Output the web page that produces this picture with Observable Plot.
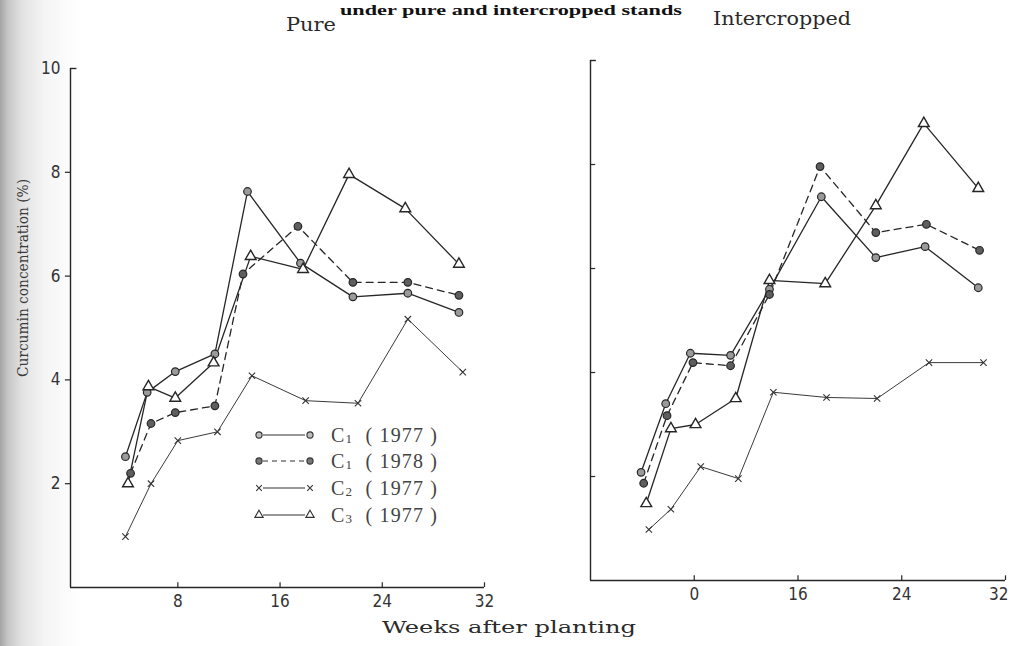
<!DOCTYPE html>
<html>
<head>
<meta charset="utf-8">
<script src="https://cdn.jsdelivr.net/npm/d3@7"></script>
<script src="https://cdn.jsdelivr.net/npm/@observablehq/plot@0.6"></script>
<style>
  html, body { margin: 0; padding: 0; background: #fff; }
  #fig { position: relative; width: 1010px; height: 646px; overflow: hidden;
    background: linear-gradient(to right, #a4a4a4 0px, #c6c6c6 8px, #e2e2e2 22px, #f5f5f5 45px, #ffffff 80px); }
  #fig > svg { position: absolute; top: 0; }
</style>
</head>
<body>
<div id="fig"></div>
<script>
// ---------- data ----------
const seriesNames = ["C1 (1977)", "C1 (1978)", "C2 (1977)", "C3 (1977)"];

// Pure stand
const pureWeeksC1a = [3.9, 5.6, 7.8, 10.9, 13.45, 17.6, 21.7, 26.0, 30.0];
const pureC1a      = [2.52, 3.76, 4.16, 4.5, 7.63, 6.25, 5.6, 5.67, 5.3];
const pureWeeksC1b = [4.3, 5.9, 7.8, 10.9, 13.1, 17.4, 21.7, 26.0, 30.0];
const pureC1b      = [2.2, 3.16, 3.37, 3.5, 6.04, 6.96, 5.88, 5.88, 5.63];
const pureWeeksC2  = [3.9, 5.9, 8.0, 11.1, 13.8, 18.0, 22.1, 26.0, 30.3];
const pureC2       = [0.98, 2.0, 2.83, 3.0, 4.08, 3.6, 3.55, 5.17, 4.15];
const pureWeeksC3  = [4.1, 5.7, 7.8, 10.8, 13.7, 17.8, 21.4, 25.8, 30.0];
const pureC3       = [2.0, 3.87, 3.65, 4.33, 6.38, 6.13, 7.96, 7.3, 6.23];

// Intercropped stand
const interWeeksC1a = [3.9, 5.8, 7.7, 10.8, 13.8, 17.8, 22.0, 25.8, 29.9];
const interC1a      = [2.08, 3.4, 4.37, 4.33, 5.6, 7.38, 6.21, 6.42, 5.63];
const interWeeksC1b = [4.1, 5.9, 7.9, 10.8, 13.8, 17.7, 22.0, 25.9, 30.0];
const interC1b      = [1.87, 3.17, 4.19, 4.13, 5.5, 7.96, 6.69, 6.85, 6.35];
const interWeeksC2  = [4.5, 6.2, 8.5, 11.4, 14.1, 18.2, 22.1, 26.1, 30.3];
const interC2       = [0.98, 1.37, 2.19, 1.96, 3.62, 3.52, 3.5, 4.19, 4.19];
const interWeeksC3  = [4.3, 6.2, 8.1, 11.2, 13.8, 18.1, 22.0, 25.7, 29.9];
const interC3       = [1.48, 2.92, 3.0, 3.5, 5.77, 5.71, 7.21, 8.79, 7.54];

// axes
const yTicks = [2, 4, 6, 8, 10];
const xTicks = [8, 16, 24, 32];
const pureXTickLabels  = ["8", "16", "24", "32"];
const interXTickLabels = ["0", "16", "24", "32"];

// ---------- build tables ----------
function rows(weeks, values, series) {
  return weeks.map((w, i) => ({week: w, value: values[i], series}));
}
const pureData = [
  rows(pureWeeksC1a, pureC1a, seriesNames[0]),
  rows(pureWeeksC1b, pureC1b, seriesNames[1]),
  rows(pureWeeksC2, pureC2, seriesNames[2]),
  rows(pureWeeksC3, pureC3, seriesNames[3])
];
const interData = [
  rows(interWeeksC1a, interC1a, seriesNames[0]),
  rows(interWeeksC1b, interC1b, seriesNames[1]),
  rows(interWeeksC2, interC2, seriesNames[2]),
  rows(interWeeksC3, interC3, seriesNames[3])
];

const INK = "#262626";
const tickFont = "'DejaVu Sans Condensed', 'DejaVu Sans', sans-serif";

function seriesMarks(data) {
  const [c1a, c1b, c2, c3] = data;
  return [
    Plot.line(c2, {x: "week", y: "value", stroke: "#3a3a3a", strokeWidth: 1}),
    Plot.line(c1a, {x: "week", y: "value", stroke: INK, strokeWidth: 1.3}),
    Plot.line(c1b, {x: "week", y: "value", stroke: INK, strokeWidth: 1.3, strokeDasharray: "7,5"}),
    Plot.line(c3, {x: "week", y: "value", stroke: INK, strokeWidth: 1.3}),
    Plot.dot(c2, {x: "week", y: "value", symbol: "times", r: 3, stroke: "#333", strokeWidth: 1.1}),
    Plot.dot(c1a, {x: "week", y: "value", symbol: "circle", r: 3.8, fill: "#9a9a9a", stroke: INK, strokeWidth: 1.2}),
    Plot.dot(c1b, {x: "week", y: "value", symbol: "circle", r: 3.8, fill: "#5e5e5e", stroke: INK, strokeWidth: 1.2}),
    Plot.dot(c3, {x: "week", y: "value", symbol: "triangle", r: 4, fill: "white", stroke: INK, strokeWidth: 1.4})
  ];
}

// ---------- left panel: Pure ----------
const left = Plot.plot({
  width: 520, height: 646,
  marginLeft: 70, marginRight: 36, marginTop: 68, marginBottom: 59,
  x: {domain: [-0.4, 32], axis: null},
  y: {domain: [0, 10], axis: null},
  style: {background: "transparent", overflow: "visible"},
  marks: [
    Plot.ruleX([-0.4], {y1: 0, y2: 10, stroke: INK, strokeWidth: 1.4}),
    Plot.ruleY([0], {x1: -0.4, x2: 32, stroke: INK, strokeWidth: 1.4}),
    Plot.ruleY(yTicks.filter(d => d < 10), {x1: -0.8, x2: -0.4, stroke: INK, strokeWidth: 1.2}),
    Plot.ruleY([10], {x1: -0.4, x2: 0.1, stroke: INK, strokeWidth: 1.4}),
    Plot.ruleX(xTicks, {y1: 0, y2: 0.09, stroke: INK, strokeWidth: 1.2}),
    Plot.text(yTicks, {y: d => d, frameAnchor: "left", dx: -10, textAnchor: "end", text: d => String(d),
      fontSize: 17, fontFamily: tickFont, fill: "#333"}),
    Plot.text(xTicks, {x: d => d, frameAnchor: "bottom", dy: 19, text: (d, i) => pureXTickLabels[i],
      fontSize: 17, fontFamily: tickFont, fill: "#333"}),
    ...seriesMarks(pureData)
  ]
});

// ---------- right panel: Intercropped ----------
const right = Plot.plot({
  width: 510, height: 646,
  marginLeft: 90, marginRight: 5, marginTop: 60, marginBottom: 66,
  x: {domain: [0, 32], axis: null},
  y: {domain: [0, 10], axis: null},
  style: {background: "transparent", overflow: "visible"},
  marks: [
    Plot.ruleX([0], {y1: 0, y2: 10, stroke: INK, strokeWidth: 1.4}),
    Plot.ruleY([0], {x1: 0, x2: 32, stroke: INK, strokeWidth: 1.4}),
    Plot.ruleY(yTicks.filter(d => d < 10), {x1: 0, x2: 0.4, stroke: INK, strokeWidth: 1.2}),
    Plot.ruleY([10], {x1: 0, x2: 0.45, stroke: INK, strokeWidth: 1.4}),
    Plot.ruleX(xTicks, {y1: 0, y2: 0.09, stroke: INK, strokeWidth: 1.2}),
    Plot.text(xTicks.slice(0, 3), {x: d => d, frameAnchor: "bottom", dy: 19, text: (d, i) => interXTickLabels[i],
      fontSize: 17, fontFamily: tickFont, fill: "#333"}),
    Plot.text(xTicks.slice(3), {x: d => d, frameAnchor: "bottom", dy: 19, dx: 3, textAnchor: "end",
      text: () => interXTickLabels[3], fontSize: 17, fontFamily: tickFont, fill: "#333"}),
    ...seriesMarks(interData)
  ]
});

const fig = document.getElementById("fig");
left.style.left = "0px";
right.style.left = "500px";
fig.appendChild(left);
fig.appendChild(right);

// ---------- overlay: titles, axis titles, legend ----------
const ov = d3.select(fig).append("svg")
  .attr("width", 1010).attr("height", 646)
  .style("left", "0px").style("pointer-events", "none");

const slab = "'DejaVu Serif', serif";
ov.append("text").attr("x", 340).attr("y", 15)
  .attr("textLength", 342).attr("lengthAdjust", "spacingAndGlyphs")
  .style("font-family", "'Liberation Serif', serif").style("font-weight", "bold")
  .style("font-size", "15px").attr("fill", "#111")
  .text("under pure and intercropped stands");

ov.append("text").attr("x", 286).attr("y", 31)
  .attr("textLength", 50).attr("lengthAdjust", "spacingAndGlyphs")
  .style("font-family", slab).style("font-size", "18px").attr("fill", "#2a2a2a")
  .text("Pure");

ov.append("text").attr("x", 713).attr("y", 25)
  .attr("textLength", 138).attr("lengthAdjust", "spacingAndGlyphs")
  .style("font-family", slab).style("font-size", "18px").attr("fill", "#2a2a2a")
  .text("Intercropped");

ov.append("text").attr("x", 382).attr("y", 633)
  .attr("textLength", 254).attr("lengthAdjust", "spacingAndGlyphs")
  .style("font-family", slab).style("font-size", "17px").attr("fill", "#2a2a2a")
  .text("Weeks after planting");

ov.append("text")
  .attr("transform", "translate(28,377) rotate(-90)")
  .attr("x", 0).attr("y", 0)
  .attr("textLength", 198).attr("lengthAdjust", "spacingAndGlyphs")
  .style("font-family", slab).style("font-size", "15px").attr("fill", "#3a3a3a")
  .text("Curcumin concentration (%)");

// legend
const legendRows = [
  {name: seriesNames[0], dash: null, sym: "circle", fill: "#bdbdbd"},
  {name: seriesNames[1], dash: "5,4", sym: "circle", fill: "#777"},
  {name: seriesNames[2], dash: null, sym: "times", fill: "none"},
  {name: seriesNames[3], dash: null, sym: "triangle", fill: "white"}
];
const legendY = [435, 461, 488, 515];
const symGen = {
  circle: d3.symbol(d3.symbolCircle, 30),
  times: d3.symbol(d3.symbolTimes, 22),
  triangle: d3.symbol(d3.symbolTriangle, 30)
};
legendRows.forEach((r, i) => {
  const g = ov.append("g").attr("transform", `translate(0,${legendY[i]})`);
  g.append("line").attr("x1", 263).attr("x2", 305).attr("y1", 0).attr("y2", 0)
    .attr("stroke", "#333").attr("stroke-width", 1.2)
    .attr("stroke-dasharray", r.dash);
  [259, 310].forEach(x => {
    g.append("path").attr("d", symGen[r.sym]()).attr("transform", `translate(${x},0)`)
      .attr("fill", r.sym === "times" ? "none" : r.fill)
      .attr("stroke", "#333").attr("stroke-width", 1.1);
  });
  const [cname, yr] = r.name.split(" ");
  const t = g.append("text").attr("x", 331).attr("y", 7)
    .attr("textLength", 106).attr("lengthAdjust", "spacing")
    .style("font-family", "'Liberation Serif', serif").style("font-size", "20px").attr("fill", "#444");
  t.append("tspan").text(cname[0]);
  t.append("tspan").attr("dy", 1).style("font-size", "13px").text(cname.slice(1));
  t.append("tspan").attr("dy", -1).attr("xml:space", "preserve").text("  ( " + yr.slice(1, -1) + " )");
});
</script>
</body>
</html>
